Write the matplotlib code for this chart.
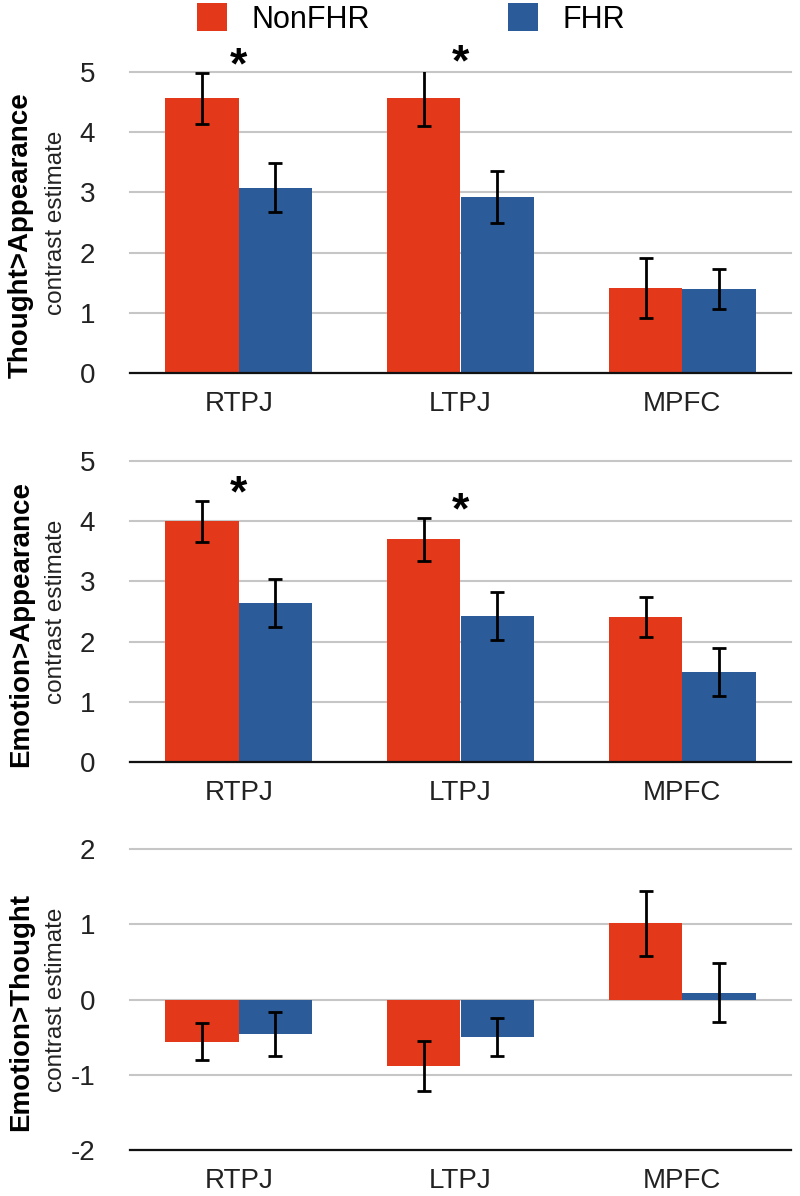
import numpy as np
import matplotlib.pyplot as plt
from matplotlib.patches import Patch

plt.rcParams['font.family'] = ['Liberation Sans', 'DejaVu Sans']
plt.rcParams['axes.unicode_minus'] = False

regions = ['RTPJ', 'LTPJ', 'MPFC']
groups = ['NonFHR', 'FHR']
colors = ['#E3391A', '#2B5B98']

contrasts = ['Thought>Appearance', 'Emotion>Appearance', 'Emotion>Thought']
ylims = [(0, 5), (0, 5), (-2, 2)]
yticks = [[0, 1, 2, 3, 4, 5], [0, 1, 2, 3, 4, 5], [-2, -1, 0, 1, 2]]

# contrast estimates (bar heights)
thought_app_nonfhr = [4.56, 4.57, 1.41]
thought_app_fhr = [3.08, 2.93, 1.40]
emotion_app_nonfhr = [4.00, 3.70, 2.41]
emotion_app_fhr = [2.64, 2.43, 1.50]
emotion_thought_nonfhr = [-0.56, -0.88, 1.01]
emotion_thought_fhr = [-0.46, -0.50, 0.09]

# error bar half-widths
thought_app_nonfhr_err = [0.43, 0.46, 0.50]
thought_app_fhr_err = [0.41, 0.43, 0.33]
emotion_app_nonfhr_err = [0.34, 0.36, 0.33]
emotion_app_fhr_err = [0.40, 0.40, 0.40]
emotion_thought_nonfhr_err = [0.25, 0.33, 0.43]
emotion_thought_fhr_err = [0.29, 0.25, 0.39]

# significant group differences (asterisks)
thought_app_sig = [True, True, False]
emotion_app_sig = [True, True, False]
emotion_thought_sig = [False, False, False]

means = [(thought_app_nonfhr, thought_app_fhr),
         (emotion_app_nonfhr, emotion_app_fhr),
         (emotion_thought_nonfhr, emotion_thought_fhr)]
errs = [(thought_app_nonfhr_err, thought_app_fhr_err),
        (emotion_app_nonfhr_err, emotion_app_fhr_err),
        (emotion_thought_nonfhr_err, emotion_thought_fhr_err)]
sigs = [thought_app_sig, emotion_app_sig, emotion_thought_sig]

W, H = 800, 1196
fig = plt.figure(figsize=(W / 100, H / 100), dpi=100)

# axes placement in pixels: (top, bottom)
panel_px = [(72, 373), (461, 762), (849, 1150)]
left_px, right_px = 130, 791

x = np.arange(len(regions))
bw = 0.33

for k, (top, bot) in enumerate(panel_px):
    ax = fig.add_axes([left_px / W, 1 - bot / H, (right_px - left_px) / W, (bot - top) / H])
    for g in range(2):
        ax.bar(x + (g - 0.5) * bw, means[k][g], bw, color=colors[g], zorder=3,
               yerr=errs[k][g], capsize=5,
               error_kw=dict(ecolor='black', elinewidth=2.0, capthick=2.0, zorder=4))
    for i, s in enumerate(sigs[k]):
        if s:
            ystar = means[k][0][i] + errs[k][0][i] + 0.10
            ax.text(x[i], ystar, '*', ha='center', va='center', fontsize=32,
                    fontweight='bold', clip_on=False)
    ax.set_xlim(-0.49, 2.49)
    ax.set_ylim(*ylims[k])
    ax.set_yticks(yticks[k])
    ax.set_xticks(x)
    ax.set_xticklabels(regions)
    ax.tick_params(axis='both', length=0, labelsize=20, labelcolor='#222222')
    ax.tick_params(axis='x', pad=13)
    ax.tick_params(axis='y', pad=25)
    ax.yaxis.grid(True, color='#C6C6C6', linewidth=1.5, zorder=0)
    for gl in ax.get_ygridlines():
        gl.set_clip_on(False)
    ax.set_axisbelow(True)
    for sp in ['top', 'right', 'left']:
        ax.spines[sp].set_visible(False)
    ax.spines['bottom'].set_linewidth(1.6)
    ax.spines['bottom'].set_color('#111111')
    ax.spines['bottom'].set_zorder(5)

    cy = 1 - (top + bot) / 2 / H
    fig.text(21 / W, cy - 12.5 / H, contrasts[k], rotation=90, ha='center', va='center',
             fontsize=20, fontweight='bold')
    fig.text(56 / W, cy, 'contrast estimate', rotation=90, ha='center', va='center',
             fontsize=17.5, color='#222222')

handles = [Patch(facecolor=c, edgecolor='none') for c in colors]
fig.legend(handles, groups, loc='center', bbox_to_anchor=(0.514, 1 - 19 / H), ncol=2,
           frameon=False, fontsize=22, handlelength=1.0, handleheight=1.0,
           handletextpad=0.8, columnspacing=4.5, borderpad=0, borderaxespad=0)

fig.savefig('out.png', dpi=100)
